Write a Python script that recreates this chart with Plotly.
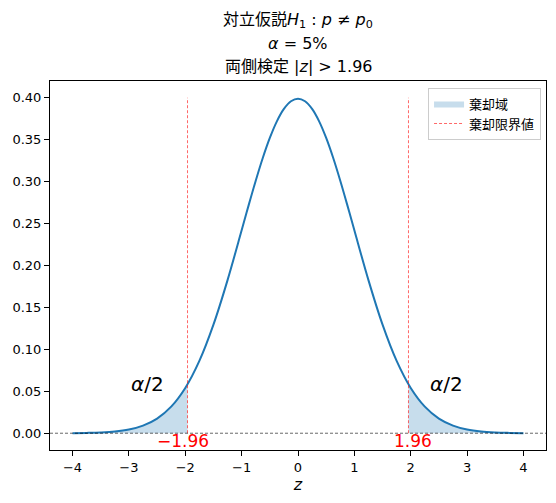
import plotly.graph_objects as go

# standard normal density
z_grid = [-4.0, -3.75, -3.5, -3.25, -3.0, -2.75, -2.5, -2.25, -2.0, -1.75, -1.5, -1.25,
          -1.0, -0.875, -0.75, -0.625, -0.5, -0.375, -0.25, -0.125, 0.0,
          0.125, 0.25, 0.375, 0.5, 0.625, 0.75, 0.875, 1.0, 1.25, 1.5, 1.75,
          2.0, 2.25, 2.5, 2.75, 3.0, 3.25, 3.5, 3.75, 4.0]
density = [0.0001, 0.0004, 0.0009, 0.0020, 0.0044, 0.0091, 0.0175, 0.0317, 0.0540, 0.0863,
           0.1295, 0.1826, 0.2420, 0.2720, 0.3011, 0.3282, 0.3521, 0.3719, 0.3867, 0.3958,
           0.3989, 0.3958, 0.3867, 0.3719, 0.3521, 0.3282, 0.3011, 0.2720, 0.2420, 0.1826,
           0.1295, 0.0863, 0.0540, 0.0317, 0.0175, 0.0091, 0.0044, 0.0020, 0.0009, 0.0004,
           0.0001]

# rejection tails
left_tail_z = [-4.0, -3.75, -3.5, -3.25, -3.0, -2.75, -2.5, -2.25, -2.0, -1.96]
left_tail_d = [0.0001, 0.0004, 0.0009, 0.0020, 0.0044, 0.0091, 0.0175, 0.0317, 0.0540, 0.0584]
right_tail_z = [1.96, 2.0, 2.25, 2.5, 2.75, 3.0, 3.25, 3.5, 3.75, 4.0]
right_tail_d = [0.0584, 0.0540, 0.0317, 0.0175, 0.0091, 0.0044, 0.0020, 0.0009, 0.0004, 0.0001]

z_crit = 1.96
line_top = 0.40
alpha_label_x = [-3.0, 2.3]
alpha_label_y = 0.05

title_lines = ["対立仮説<i>H</i><sub>1</sub> : <i>p</i> ≠ <i>p</i><sub>0</sub>",
               "<i>α</i> = 5%",
               "両側検定 |<i>z</i>| > 1.96"]

font = "DejaVu Sans, Noto Sans CJK JP, sans-serif"
fill_col = "rgba(31,119,180,0.25)"

fig = go.Figure()

# closed polygons for the shaded tails
fig.add_trace(go.Scatter(x=left_tail_z + [left_tail_z[-1], left_tail_z[0]],
                         y=left_tail_d + [0, 0], mode="lines", fill="toself",
                         fillcolor=fill_col, line=dict(width=0), name="棄却域",
                         legendgroup="rej", hoverinfo="skip"))
fig.add_trace(go.Scatter(x=right_tail_z + [right_tail_z[-1], right_tail_z[0]],
                         y=right_tail_d + [0, 0], mode="lines", fill="toself",
                         fillcolor=fill_col, line=dict(width=0), name="棄却域",
                         legendgroup="rej", showlegend=False, hoverinfo="skip"))

fig.add_trace(go.Scatter(x=z_grid, y=density, mode="lines",
                         line=dict(color="#1f77b4", width=2, shape="spline"), showlegend=False))

fig.add_trace(go.Scatter(x=[-z_crit, -z_crit], y=[0, line_top], mode="lines",
                         line=dict(color="red", width=0.6, dash="3px,2px"), name="棄却限界値",
                         legendgroup="crit"))
fig.add_trace(go.Scatter(x=[z_crit, z_crit], y=[0, line_top], mode="lines",
                         line=dict(color="red", width=0.6, dash="3px,2px"), name="棄却限界値",
                         legendgroup="crit", showlegend=False))

# horizontal dashed baseline
fig.add_hline(y=0, line=dict(color="black", width=0.6, dash="3px,2px"))

for xv in alpha_label_x:
    fig.add_annotation(x=xv, y=alpha_label_y, text="<i>α</i>/2", showarrow=False,
                       xanchor="left", yanchor="bottom", yshift=-7,
                       font=dict(size=20, color="black", family=font))

fig.add_annotation(x=-z_crit, y=0, text="−1.96", showarrow=False, xanchor="center", yanchor="top",
                   xshift=-5, yshift=4, font=dict(size=17, color="red", family=font))
fig.add_annotation(x=z_crit, y=0, text="1.96", showarrow=False, xanchor="center", yanchor="top",
                   xshift=5, yshift=4, font=dict(size=17, color="red", family=font))

# three-line title, one annotation per line
for i, line in enumerate(title_lines):
    fig.add_annotation(xref="paper", yref="paper", x=0.5, y=1, xanchor="center", yanchor="middle",
                       yshift=61 - 23 * i, showarrow=False, text=line,
                       font=dict(size=16, color="black", family=font))

fig.update_layout(
    width=548, height=495,
    margin=dict(l=42, r=10, t=73, b=53),
    plot_bgcolor="white", paper_bgcolor="white",
    font=dict(family=font, size=13, color="black"),
    legend=dict(x=0.99, y=0.982, xanchor="right", yanchor="top", bordercolor="#cccccc", borderwidth=1,
                bgcolor="rgba(255,255,255,0.8)", font=dict(size=13), tracegroupgap=0),
    showlegend=True,
)
fig.update_xaxes(range=[-4.4, 4.4], tickmode="array", tickvals=list(range(-4, 5)), automargin=False,
                 showgrid=False, zeroline=False, showline=True, mirror=True, linecolor="black",
                 linewidth=1, ticks="outside", ticklen=5, tickcolor="black",
                 title=dict(text="<i>z</i>", font=dict(size=16), standoff=0))
fig.update_yaxes(range=[-0.02, 0.42], tickmode="array", tickvals=[0, 0.05, 0.1, 0.15, 0.2, 0.25, 0.3, 0.35, 0.4],
                 tickformat=".2f", showgrid=False, zeroline=False, showline=True, mirror=True, automargin=False,
                 linecolor="black", linewidth=1, ticks="outside", ticklen=5, tickcolor="black")

fig.write_html("out.html")
